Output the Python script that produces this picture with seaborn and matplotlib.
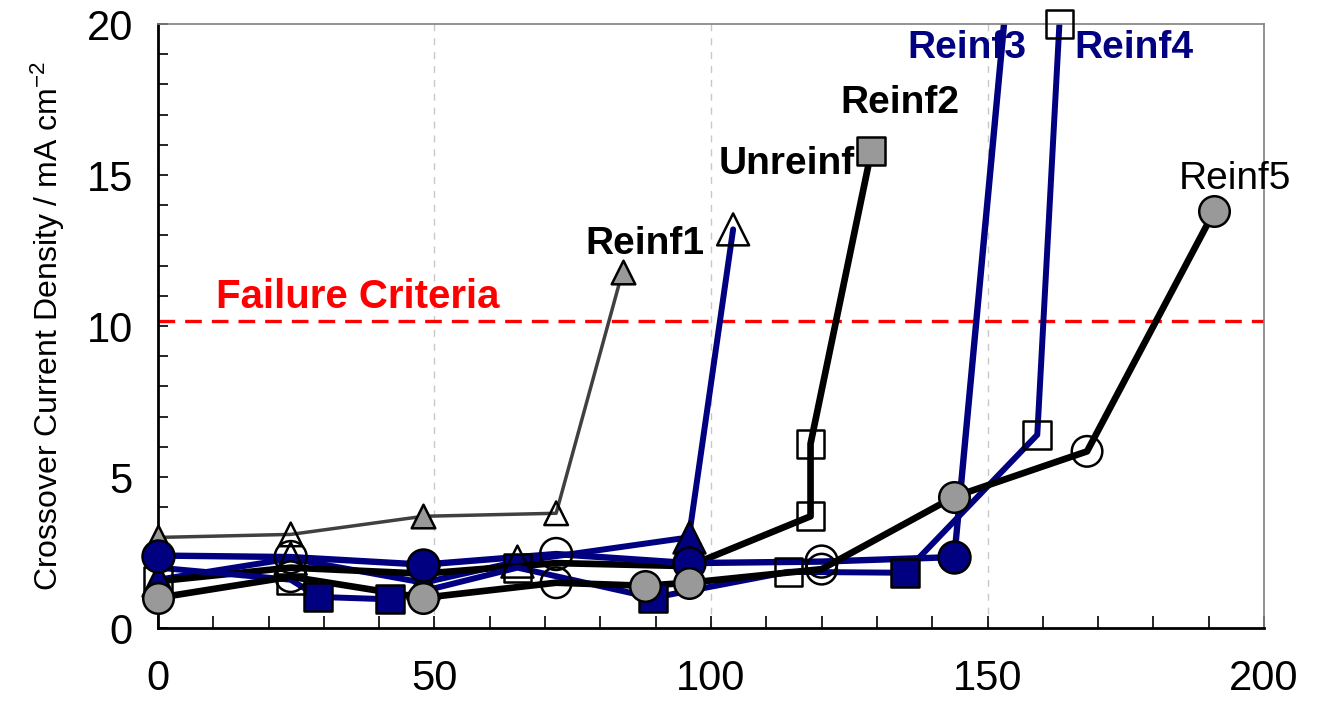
import matplotlib
matplotlib.use("Agg")
import matplotlib.pyplot as plt
import seaborn as sns
import pandas as pd

# Set style
sns.set_theme(style="white")
plt.rcParams['font.family'] = ['Liberation Sans', 'DejaVu Sans']
plt.rcParams['mathtext.fontset'] = 'custom'
plt.rcParams['mathtext.rm'] = 'Liberation Sans'
plt.rcParams['mathtext.default'] = 'regular'
plt.rcParams['text.color'] = 'black'
plt.rcParams['axes.labelcolor'] = 'black'

# Data (hours vs crossover current density)
reinf1_x = [0, 24, 48, 72, 84]
reinf1_y = [3.0, 3.1, 3.7, 3.8, 11.8]
reinf1_fill = ['f', 'o', 'f', 'o', 'f']

unreinf_x = [0, 24, 48, 65, 96, 104]
unreinf_y = [1.6, 2.3, 1.5, 2.2, 3.0, 13.2]
unreinf_fill = ['f', 'o', 'f', 'o', 'f', 'o']

reinf2_x = [0, 24, 48, 72, 96, 118, 118, 129]
reinf2_y = [1.55, 2.0, 1.8, 2.15, 2.05, 3.7, 6.1, 15.8]
reinf2_fill = ['o', '', '', '', '', 'o', 'o', 'f']

reinf3_x = [0, 24, 48, 72, 96, 120, 144, 154]
reinf3_y = [2.4, 2.35, 2.1, 2.45, 2.15, 2.2, 2.35, 22.0]
reinf3_fill = ['f', 'o', 'f', 'o', 'f', 'o', 'f', '']

reinf4_x = [0, 24, 29, 42, 65, 89.5, 114, 135, 159, 163]
reinf4_y = [2.0, 1.6, 1.03, 0.95, 2.0, 1.0, 1.86, 1.83, 6.4, 20.0]
reinf4_fill = ['', 'o', 'f', 'f', 'o', 'f', 'o', 'f', 'o', 'o']

reinf5_x = [0, 24, 48, 72, 88, 96, 120, 144, 168, 191]
reinf5_y = [1.0, 1.7, 1.0, 1.5, 1.4, 1.5, 1.95, 4.35, 5.85, 13.8]
reinf5_fill = ['f', 'o', 'f', 'o', 'f', 'f', 'o', 'f', 'o', 'f']

failure_level = 10.15

names = ['Reinf1', 'Unreinf', 'Reinf2', 'Reinf3', 'Reinf4', 'Reinf5']
label_x = [88, 113.7, 134.1, 146.2, 176.5, 194.7]
label_y = [12.7, 15.35, 17.4, 19.2, 19.2, 14.86]

NAVY = '#000080'
GRAY = '#999999'

# series styles: (x, y, fills, line color, line width, marker, marker size, fill color, open edge)
series = [
    (reinf1_x, reinf1_y, reinf1_fill, '#404040', 2.5, '^', 17, GRAY, 'black'),
    (unreinf_x, unreinf_y, unreinf_fill, NAVY, 4.3, '^', 23, NAVY, 'black'),
    (reinf2_x, reinf2_y, reinf2_fill, 'black', 4.8, 's', 20, GRAY, 'black'),
    (reinf3_x, reinf3_y, reinf3_fill, NAVY, 4.6, 'o', 23, NAVY, 'black'),
    (reinf4_x, reinf4_y, reinf4_fill, NAVY, 4.3, 's', 20, NAVY, 'black'),
    (reinf5_x, reinf5_y, reinf5_fill, 'black', 4.8, 'o', 22, GRAY, 'black'),
]
label_colors = ['black', 'black', 'black', NAVY, NAVY, 'black']
label_weights = ['bold', 'bold', 'bold', 'bold', 'bold', 'normal']

fig = plt.figure(figsize=(13.41, 7.11), dpi=100)
ax = fig.add_axes([0.1178, 0.1167, 0.8248, 0.8495])

# vertical dashed grid
for gx in [50, 100, 150]:
    ax.axvline(gx, color='#c8c8c8', lw=1.0, ls=(0, (5, 5)), zorder=0)

# failure criteria
ax.axhline(failure_level, color='#ff0000', lw=2.4, ls=(0, (5, 3)), zorder=1)
ax.text(36.2, 10.95, 'Failure Criteria', color='#ff0000', fontsize=29,
        fontweight='bold', ha='center', va='center')

# lines
for x, y, fills, lc, lw, mk, ms, fc, oe in series:
    sns.lineplot(x=x, y=y, sort=False, estimator=None, color=lc, lw=lw,
                 ax=ax, zorder=2)

# markers
for x, y, fills, lc, lw, mk, ms, fc, oe in series:
    df = pd.DataFrame({'x': x, 'y': y, 'fill': fills})
    filled = df[df['fill'] == 'f']
    opened = df[df['fill'] == 'o']
    if len(filled):
        sns.scatterplot(data=filled, x='x', y='y', marker=mk, s=ms ** 2,
                        color=fc, edgecolor='black', linewidth=1.8,
                        ax=ax, zorder=3, clip_on=False, legend=False)
    if len(opened):
        sns.scatterplot(data=opened, x='x', y='y', marker=mk, s=ms ** 2,
                        facecolor='none', edgecolor=oe, linewidth=1.8,
                        ax=ax, zorder=3, clip_on=False, legend=False)

# series labels
for name, tx, ty, c, w in zip(names, label_x, label_y, label_colors, label_weights):
    ax.text(tx, ty, name, color=c, fontsize=28, fontweight=w,
            ha='center', va='center', zorder=4)

ax.set_xlim(0, 200)
ax.set_ylim(0, 20)
ax.set_xticks([0, 50, 100, 150, 200])
ax.set_xticks(range(0, 201, 10), minor=True)
ax.set_yticks([0, 5, 10, 15, 20])
ax.set_yticks(range(0, 21, 1), minor=True)
ax.tick_params(axis='x', which='both', direction='in', length=9, width=1.2,
               labelsize=30, pad=22, bottom=True, colors='black')
ax.tick_params(axis='y', which='both', direction='in', length=7, width=1.2,
               labelsize=30, pad=18, left=True, colors='black')
ax.set_xlabel('')
ax.set_ylabel('Crossover Current Density / mA cm$^{-2}$', fontsize=23,
              labelpad=14, color='black')

for side in ['left', 'bottom']:
    ax.spines[side].set_color('black')
    ax.spines[side].set_linewidth(2)
for side in ['top', 'right']:
    ax.spines[side].set_color('#808080')
    ax.spines[side].set_linewidth(1.2)

fig.savefig('out.png', dpi=100)
